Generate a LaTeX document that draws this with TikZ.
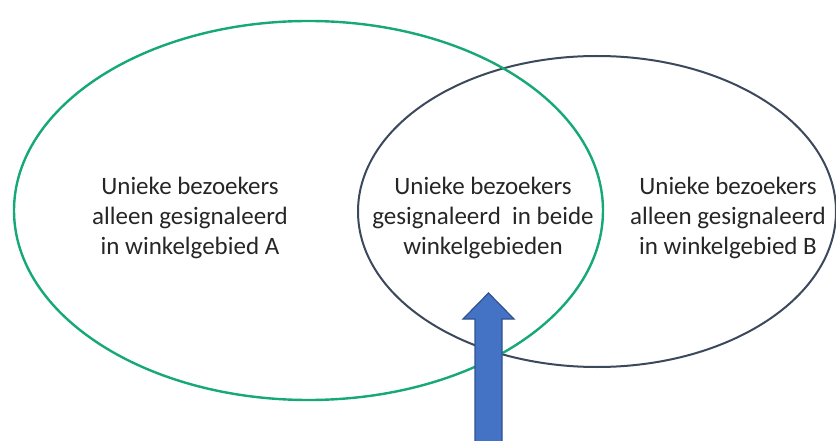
\documentclass[tikz,border=0pt]{standalone}
\usepackage{fontspec}
\setmainfont{Carlito}
\definecolor{vgreen}{RGB}{22,168,118}
\definecolor{vdark}{RGB}{60,72,92}
\definecolor{txt}{RGB}{38,38,38}
\definecolor{arrfill}{RGB}{68,114,196}
\definecolor{arrline}{RGB}{47,82,143}
\begin{document}
\begin{tikzpicture}[x=1pt,y=-1pt,
  setA/.style={draw=vgreen,line width=2.4pt},
  setB/.style={draw=vdark,line width=2pt},
  lbl/.style={align=center,text=txt,font=\fontsize{25}{30}\selectfont,inner sep=0pt},
  blockarrow/.style={fill=arrfill,draw=arrline,line width=1.2pt,line join=miter}]
\useasboundingbox (0,0) rectangle (836,441);
\fill[white] (0,0) rectangle (836,441);
\draw[setB] (597,211.5) ellipse [x radius=239pt, y radius=155.5pt];
\draw[setA] (308.5,210.5) ellipse [x radius=294.5pt, y radius=189.5pt];
\node[lbl] (onlyA) at (190,218) {Unieke bezoekers\\alleen gesignaleerd\\in winkelgebied A};
\node[lbl] (both) at (483,218) {Unieke bezoekers\\gesignaleerd\ \ in beide\\winkelgebieden};
\node[lbl] (onlyB) at (728,218) {Unieke bezoekers\\alleen gesignaleerd\\in winkelgebied B};
\coordinate (tip) at (488.5,293);
\draw[blockarrow] (475,446) -- (475,319) -- (463,319) -- (tip) -- (514,319) -- (502,319) -- (502,446) -- cycle;
\end{tikzpicture}
\end{document}
